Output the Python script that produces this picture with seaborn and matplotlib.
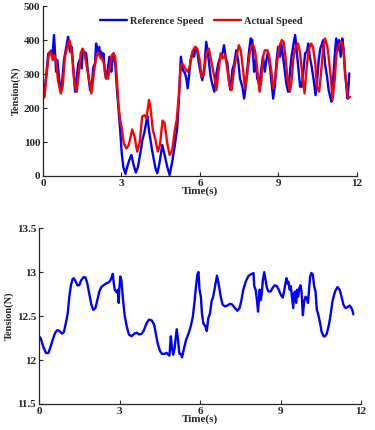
import numpy as np
import pandas as pd
import matplotlib
matplotlib.use("Agg")
import matplotlib.pyplot as plt
import seaborn as sns

# top panel - reference speed (blue)
ref_t = [0.0, 0.08, 0.2, 0.31, 0.36, 0.42, 0.47, 0.5, 0.55, 0.65, 0.72, 0.8, 0.88,
         0.96, 1.03, 1.1, 1.16, 1.23, 1.29, 1.35, 1.42, 1.48, 1.52, 1.58, 1.65, 1.71,
         1.8, 1.86, 1.93, 1.99, 2.03, 2.08, 2.15, 2.18, 2.22, 2.27, 2.31, 2.37, 2.41,
         2.48, 2.54, 2.61, 2.64, 2.69, 2.76, 2.82, 2.89, 2.95, 3.01, 3.07, 3.15, 3.22,
         3.3, 3.38, 3.45, 3.55, 3.63, 3.72, 3.8, 3.88, 3.96, 3.99, 4.05, 4.17, 4.3,
         4.37, 4.45, 4.56, 4.65, 4.75, 4.84, 4.94, 5.03, 5.13, 5.2, 5.27, 5.35, 5.43,
         5.48, 5.53, 5.58, 5.64, 5.71, 5.77, 5.83, 5.9, 5.96, 6.03, 6.09, 6.17, 6.24,
         6.32, 6.41, 6.48, 6.55, 6.63, 6.7, 6.78, 6.86, 6.92, 6.99, 7.05, 7.12, 7.17,
         7.24, 7.31, 7.39, 7.46, 7.53, 7.62, 7.69, 7.75, 7.82, 7.88, 7.94, 8.0, 8.07,
         8.13, 8.19, 8.28, 8.34, 8.41, 8.48, 8.54, 8.6, 8.67, 8.73, 8.8, 8.86, 8.93,
         8.99, 9.06, 9.11, 9.17, 9.24, 9.3, 9.37, 9.43, 9.5, 9.58, 9.64, 9.7, 9.77,
         9.83, 9.89, 9.96, 10.02, 10.09, 10.14, 10.2, 10.27, 10.35, 10.42, 10.47,
         10.54, 10.6, 10.67, 10.71, 10.78, 10.86, 10.92, 10.98, 11.03, 11.1, 11.16,
         11.21, 11.27, 11.32, 11.38, 11.44, 11.49, 11.54, 11.64, 11.67, 11.71]
ref_v = [251, 263, 360, 369, 351, 415, 351, 307, 341, 258, 268, 341, 375,
         410, 366, 380, 312, 248, 292, 331, 346, 317, 370, 365, 361, 312,
         253, 268, 322, 331, 390, 366, 380, 351, 366, 346, 361, 302, 287,
         317, 351, 307, 331, 361, 331, 263, 194, 135, 67, 27, 6, 27,
         47, 62, 37, 10, 27, 67, 106, 130, 165, 176, 135, 76, 22,
         8, 37, 91, 62, 27, 3, 42, 86, 140, 233, 351, 312, 302,
         287, 258, 292, 341, 361, 351, 380, 366, 331, 302, 282, 322, 395,
         351, 292, 268, 248, 302, 331, 351, 361, 385, 346, 331, 273, 253,
         312, 331, 370, 341, 287, 263, 228, 263, 322, 370, 405, 400, 307,
         341, 287, 268, 312, 351, 307, 341, 366, 326, 282, 228, 263, 341,
         380, 351, 390, 356, 312, 273, 248, 297, 351, 390, 415, 366, 312,
         263, 263, 312, 361, 366, 390, 351, 322, 282, 238, 268,
         341, 375, 390, 400, 331, 292, 253, 233, 219, 292, 361,
         405, 370, 400, 351, 405, 375, 312, 228, 253, 302]

# top panel - actual speed (red)
act_t = [0.0, 0.06, 0.14, 0.23, 0.3, 0.37, 0.43, 0.5, 0.57, 0.68, 0.75, 0.84,
         0.93, 1.01, 1.07, 1.14, 1.21, 1.29, 1.37, 1.44, 1.51, 1.57, 1.63, 1.7,
         1.78, 1.85, 1.93, 1.99, 2.06, 2.13, 2.21, 2.27, 2.34, 2.41, 2.49, 2.57,
         2.63, 2.69, 2.76, 2.82, 2.88, 2.95, 3.0, 3.09, 3.19, 3.28, 3.41, 3.5,
         3.6, 3.7, 3.79, 3.88, 3.96, 4.05, 4.11, 4.2, 4.3, 4.39, 4.47, 4.57,
         4.65, 4.75, 4.84, 4.94, 5.03, 5.11, 5.2, 5.26, 5.33, 5.43, 5.52, 5.61,
         5.71, 5.81, 5.9, 5.99, 6.06, 6.15, 6.24, 6.34, 6.45, 6.55, 6.63, 6.7,
         6.79, 6.86, 6.96, 7.05, 7.14, 7.21, 7.3, 7.39, 7.49, 7.56, 7.65, 7.72,
         7.81, 7.9, 7.98, 8.04, 8.1, 8.17, 8.23, 8.28, 8.35, 8.41, 8.48, 8.58,
         8.65, 8.74, 8.8, 8.87, 8.96, 9.05, 9.13, 9.2, 9.27, 9.35, 9.44, 9.5,
         9.58, 9.67, 9.75, 9.83, 9.92, 10.0, 10.06, 10.15, 10.25, 10.32, 10.41,
         10.47, 10.56, 10.65, 10.72, 10.78, 10.86, 10.92, 11.0, 11.07, 11.15,
         11.22, 11.3, 11.34, 11.42, 11.5, 11.55, 11.66, 11.73]
act_v = [228, 233, 302, 361, 366, 341, 356, 341, 282, 243, 263, 351,
         380, 400, 380, 331, 268, 248, 302, 361, 375, 366, 341, 312,
         273, 243, 292, 331, 356, 361, 346, 346, 326, 287, 287, 331,
         356, 361, 351, 292, 214, 165, 145, 96, 81, 91, 137, 116,
         72, 101, 175, 179, 170, 224, 199, 135, 106, 72, 91, 163,
         155, 96, 62, 76, 130, 165, 243, 322, 331, 317, 307, 322,
         366, 380, 375, 341, 292, 297, 361, 375, 331, 292, 253, 302,
         361, 346, 356, 312, 263, 253, 312, 351, 385, 370, 312, 258,
         302, 361, 385, 385, 370, 331, 282, 248, 282, 351, 370, 370,
         351, 302, 258, 282, 341, 385, 400, 395, 351, 282, 248, 278,
         351, 385, 390, 361, 292, 243, 302, 370, 390, 380, 331,
         263, 248, 322, 385, 405, 385, 351, 292, 224, 282,
         361, 385, 390, 395, 361, 302, 228, 233]

# bottom panel - tension
ten_t = [0.0, 0.06, 0.16, 0.26, 0.35, 0.41, 0.51, 0.6, 0.68, 0.76, 0.86, 0.93,
         1.0, 1.07, 1.13, 1.19, 1.25, 1.3, 1.37, 1.43, 1.5, 1.56, 1.65, 1.73,
         1.8, 1.88, 1.95, 2.02, 2.1, 2.17, 2.25, 2.32, 2.4, 2.5, 2.58, 2.65,
         2.71, 2.75, 2.78, 2.82, 2.87, 2.89, 2.94, 2.97, 2.99, 3.03, 3.07, 3.12,
         3.19, 3.27, 3.35, 3.45, 3.55, 3.64, 3.74, 3.83, 3.91, 4.01, 4.1, 4.2,
         4.29, 4.35, 4.42, 4.51, 4.58, 4.67, 4.76, 4.82, 4.86, 4.91, 4.96, 5.0,
         5.05, 5.13, 5.18, 5.23, 5.29, 5.33, 5.4, 5.48, 5.57, 5.65, 5.73, 5.79,
         5.85, 5.9, 5.94, 5.98, 6.03, 6.07, 6.12, 6.2, 6.25, 6.31, 6.37, 6.43,
         6.49, 6.56, 6.63, 6.69, 6.77, 6.84, 6.93, 7.02, 7.12, 7.2, 7.3, 7.39,
         7.47, 7.54, 7.61, 7.7, 7.79, 7.86, 7.95, 7.99, 8.02, 8.07, 8.12, 8.16,
         8.2, 8.22, 8.26, 8.3, 8.34, 8.39, 8.44, 8.49, 8.55, 8.63, 8.7, 8.78,
         8.86, 8.93, 9.01, 9.08, 9.13, 9.18, 9.22, 9.26, 9.29, 9.34, 9.38, 9.43,
         9.47, 9.5, 9.54, 9.58, 9.62, 9.65, 9.7, 9.74, 9.78, 9.83, 9.88, 9.93,
         9.98, 10.02, 10.06, 10.1, 10.15, 10.2, 10.25, 10.3, 10.35, 10.41, 10.47,
         10.53, 10.6, 10.66, 10.72, 10.8, 10.87, 10.94, 11.03, 11.12, 11.2, 11.27,
         11.34, 11.42, 11.49, 11.57, 11.62, 11.67, 11.71]
ten_v = [12.27, 12.25, 12.15, 12.08, 12.08, 12.13, 12.23, 12.31, 12.34, 12.33, 12.30, 12.32,
         12.42, 12.53, 12.72, 12.85, 12.92, 12.93, 12.89, 12.85, 12.85, 12.90, 12.94, 12.94,
         12.87, 12.74, 12.63, 12.57, 12.59, 12.68, 12.78, 12.83, 12.85, 12.87, 12.88, 12.90,
         12.94, 12.98, 12.89, 12.80, 12.78, 12.77, 12.80, 12.65, 12.80, 12.95, 12.91, 12.72,
         12.51, 12.38, 12.29, 12.27, 12.30, 12.31, 12.29, 12.30, 12.34, 12.42, 12.46, 12.45,
         12.40, 12.30, 12.19, 12.10, 12.07, 12.07, 12.08, 12.06, 12.05, 12.27, 12.13, 12.06,
         12.13, 12.35, 12.23, 12.07, 12.07, 12.03, 12.13, 12.23, 12.30, 12.38, 12.49, 12.65,
         12.84, 12.97, 13.00, 12.80, 12.72, 12.53, 12.42, 12.38, 12.33, 12.48, 12.53, 12.67,
         12.72, 12.84, 12.96, 12.87, 12.72, 12.63, 12.61, 12.62, 12.64, 12.63, 12.59, 12.56,
         12.59, 12.68, 12.80, 12.89, 12.95, 12.97, 12.98, 12.99, 12.84, 12.80, 12.68, 12.55,
         12.72, 12.80, 12.68, 12.76, 12.91, 13.00, 12.91, 12.82, 12.78, 12.78, 12.82, 12.85,
         12.84, 12.80, 12.74, 12.71, 12.78, 12.87, 12.93, 12.87, 12.89, 12.80, 12.84, 12.70,
         12.59, 12.76, 12.78, 12.65, 12.80, 12.72, 12.82, 12.85, 12.78, 12.51, 12.67, 12.72,
         12.70, 12.65, 12.80, 12.95, 12.99, 12.97, 12.84, 12.78, 12.57, 12.51, 12.42,
         12.32, 12.27, 12.27, 12.30, 12.40, 12.53, 12.68, 12.78, 12.83, 12.80, 12.72,
         12.63, 12.59, 12.60, 12.62, 12.60, 12.57, 12.52]

xticks = [0, 3, 6, 9, 12]

sns.set_style("ticks")
plt.rcParams['font.family'] = ['Liberation Serif', 'DejaVu Serif']
plt.rcParams['font.weight'] = 'bold'
plt.rcParams['axes.labelweight'] = 'bold'

fig = plt.figure(figsize=(3.75, 4.3), dpi=100)
ax1 = fig.add_axes([0.1147, 0.5907, 0.837, 0.395])
ax2 = fig.add_axes([0.104, 0.0605, 0.859, 0.409])

speed = pd.concat([
    pd.DataFrame({"t": ref_t, "v": ref_v, "s": "Reference Speed"}),
    pd.DataFrame({"t": act_t, "v": act_v, "s": "Actual Speed"}),
])
sns.lineplot(data=speed, x="t", y="v", hue="s", estimator=None, sort=False,
             palette={"Reference Speed": "#0000ff", "Actual Speed": "#ff0000"},
             linewidth=1.7, ax=ax1)
ax1.set_xlim(0, 12)
ax1.set_ylim(0, 500)
ax1.set_yticks([0, 100, 200, 300, 400, 500])
ax1.legend(loc="center", bbox_to_anchor=(0.505, 0.91), ncol=2, frameon=False,
           handlelength=2.6, columnspacing=1.0, handletextpad=0.3,
           prop={'weight': 'bold', 'size': 7.5})

tension = pd.DataFrame({"t": ten_t, "v": ten_v})
sns.lineplot(data=tension, x="t", y="v", estimator=None, sort=False,
             color="#0000ff", linewidth=1.7, ax=ax2)
ax2.set_xlim(0, 12)
ax2.set_ylim(11.5, 13.5)
ax2.set_yticks([11.5, 12, 12.5, 13, 13.5])
ax2.set_yticklabels(["11.5", "12", "12.5", "13", "13.5"])

for ax in (ax1, ax2):
    ax.set_xticks(xticks)
    ax.set_xlabel("Time(s)", fontsize=8, fontweight='bold', labelpad=-1)
    ax.set_ylabel("Tension(N)", fontsize=7.5, fontweight='bold', labelpad=2)
    ax.tick_params(direction='in', length=3, width=0.8, labelsize=8, pad=2)
    for lab in ax.get_xticklabels() + ax.get_yticklabels():
        lab.set_fontweight('bold')
    sns.despine(ax=ax)
    ax.spines['left'].set_linewidth(0.9)
    ax.spines['bottom'].set_linewidth(0.9)

fig.savefig("out.png", dpi=100)
